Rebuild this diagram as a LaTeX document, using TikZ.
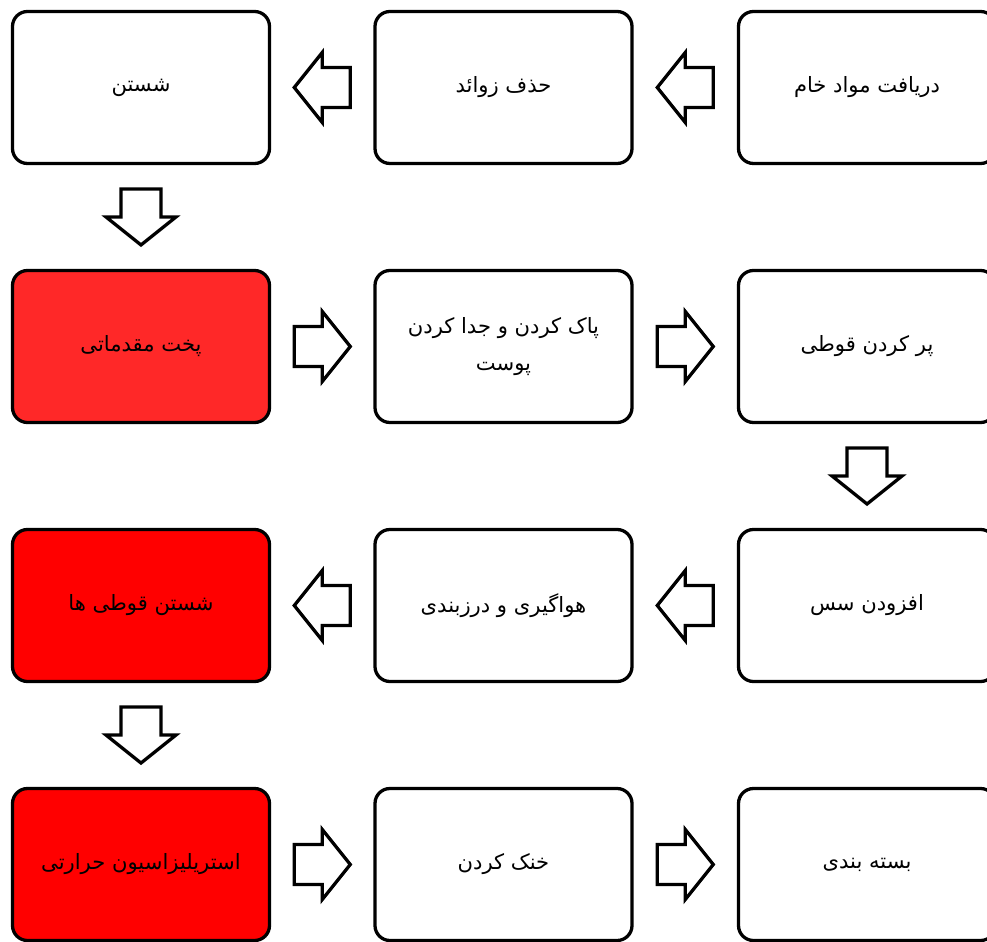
\documentclass[tikz,border=0pt]{standalone}
\usepackage{fontspec}
\newfontfamily\arabicfont[Script=Arabic]{DejaVu Sans}
\TeXXeTstate=1
\usetikzlibrary{calc}
\definecolor{lightred}{RGB}{255,40,40}
\definecolor{fullred}{RGB}{255,0,0}
\begin{document}
\begin{tikzpicture}[x=0.03cm,y=0.03cm,
  box/.style={draw, line width=2.8pt, rounded corners=0.45cm,
    minimum width=7.71cm, minimum height=4.56cm, fill=white,
    font=\arabicfont\fontsize{18}{32}\selectfont, align=center, inner sep=0pt},
  pics/barrow/.style={code={
    \draw[line width=2.8pt, fill=white] (-28,-20) -- (0,-20) -- (0,-35) -- (28,0)
      -- (0,35) -- (0,20) -- (-28,20) -- cycle;}}]
\useasboundingbox (0,0) rectangle (987,941);
\clip (0,0) rectangle (987,941);
% row 1
\node[box] (a1) at (867,853.5) {\beginR دریافت مواد خام\endR};
\node[box] (a2) at (503.5,853.5) {\beginR حذف زوائد\endR};
\node[box] (a3) at (141,853.5) {\beginR شستن\endR};
% row 2
\node[box, fill=lightred] (b1) at (141,594.5) {\beginR پخت مقدماتی\endR};
\node[box] (b2) at (503.5,594.5) {\beginR پاک کردن و جدا کردن\endR\\\beginR پوست\endR};
\node[box] (b3) at (867,594.5) {\beginR پر کردن قوطی\endR};
% row 3
\node[box] (c1) at (867,335.5) {\beginR افزودن سس\endR};
\node[box] (c2) at (503.5,335.5) {\beginR هواگیری و درزبندی\endR};
\node[box, fill=fullred] (c3) at (141,335.5) {\beginR شستن قوطی ها\endR};
% row 4
\node[box, fill=fullred] (d1) at (141,76.5) {\beginR استریلیزاسیون حرارتی\endR};
\node[box] (d2) at (503.5,76.5) {\beginR خنک کردن\endR};
\node[box] (d3) at (867,76.5) {\beginR بسته بندی\endR};
% arrows
\pic[rotate=180] at ($(a1.west)!0.5!(a2.east)$) {barrow};
\pic[rotate=180] at ($(a2.west)!0.5!(a3.east)$) {barrow};
\pic[rotate=-90] at ($(a3.south)!0.5!(b1.north)$) {barrow};
\pic at ($(b1.east)!0.5!(b2.west)$) {barrow};
\pic at ($(b2.east)!0.5!(b3.west)$) {barrow};
\pic[rotate=-90] at ($(b3.south)!0.5!(c1.north)$) {barrow};
\pic[rotate=180] at ($(c1.west)!0.5!(c2.east)$) {barrow};
\pic[rotate=180] at ($(c2.west)!0.5!(c3.east)$) {barrow};
\pic[rotate=-90] at ($(c3.south)!0.5!(d1.north)$) {barrow};
\pic at ($(d1.east)!0.5!(d2.west)$) {barrow};
\pic at ($(d2.east)!0.5!(d3.west)$) {barrow};
\end{tikzpicture}
\end{document}
